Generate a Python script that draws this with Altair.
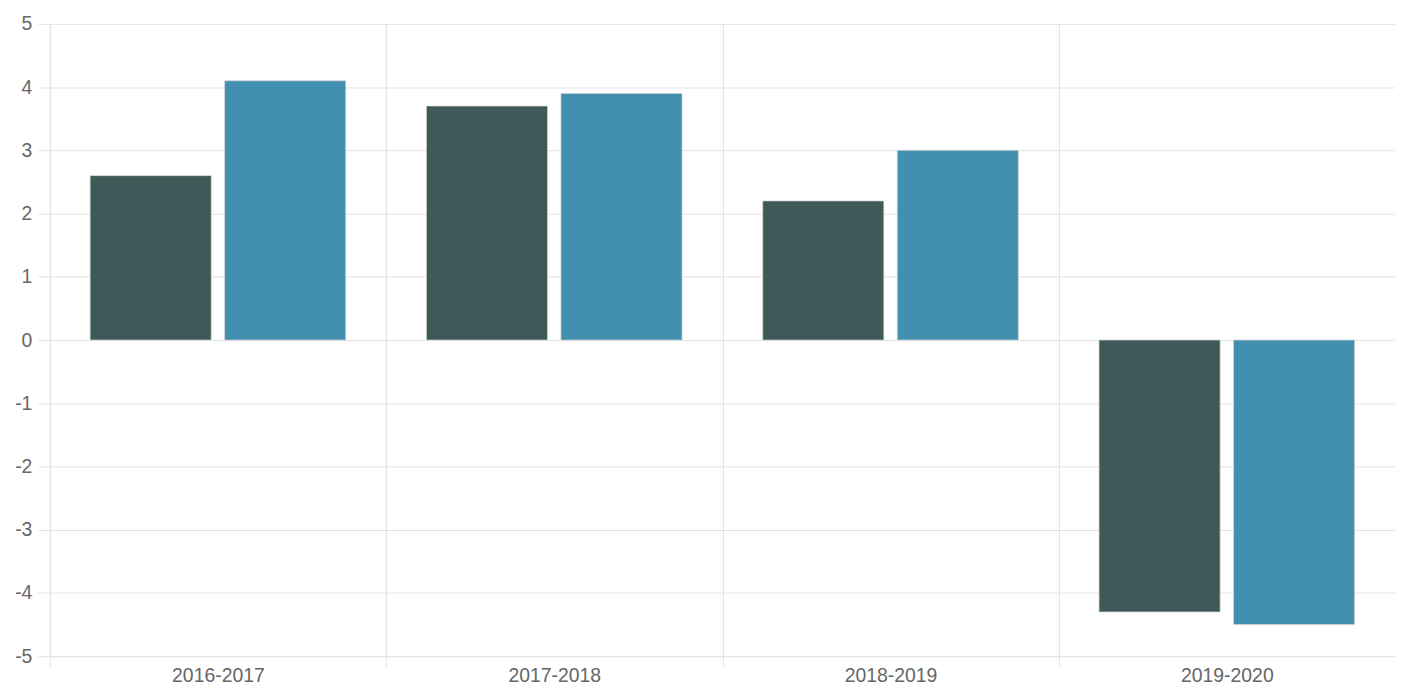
import altair as alt
import pandas as pd

categories = ["2016-2017", "2017-2018", "2018-2019", "2019-2020"]
series_names = ["Series A", "Series B"]
series_a = [2.6, 3.7, 2.2, -4.3]
series_b = [4.1, 3.9, 3.0, -4.5]
y_ticks = [-5, -4, -3, -2, -1, 0, 1, 2, 3, 4, 5]
colors = ["#3e5957", "#438fb0"]

rows = []
for i, c in enumerate(categories):
    rows.append({"period": c, "series": series_names[0], "value": series_a[i]})
    rows.append({"period": c, "series": series_names[1], "value": series_b[i]})
df = pd.DataFrame(rows)

grid_color = "#e2e2e2"

chart = (
    alt.Chart(df)
    .mark_bar(stroke="#d4d4d4", strokeWidth=1, strokeOpacity=0.7)
    .encode(
        x=alt.X(
            "period:N",
            sort=categories,
            scale=alt.Scale(paddingInner=0, paddingOuter=0),
            axis=alt.Axis(
                title=None,
                labelAngle=0,
                grid=True,
                tickBand="extent",
                tickSize=10,
                tickColor=grid_color,
                gridColor=grid_color,
                domainColor=grid_color,
                labelPadding=0,
            ),
        ),
        xOffset=alt.XOffset(
            "series:N",
            sort=series_names,
            scale=alt.Scale(paddingInner=0.1, paddingOuter=0.3),
        ),
        y=alt.Y(
            "value:Q",
            scale=alt.Scale(domain=[-5, 5], nice=False, zero=True),
            axis=alt.Axis(
                title=None,
                values=y_ticks,
                labelExpr="'' + datum.value",
                tickSize=12,
                tickColor=grid_color,
                gridColor=grid_color,
                domainColor=grid_color,
                labelPadding=6,
            ),
        ),
        color=alt.Color(
            "series:N",
            scale=alt.Scale(domain=series_names, range=colors),
            legend=None,
        ),
    )
    .properties(
        width=1353,
        height=636,
        autosize=alt.AutoSizeParams(type="none"),
        padding={"left": 42, "top": 14, "right": 0, "bottom": 28},
    )
    .configure_view(stroke=None)
    .configure_axis(
        labelFont="Liberation Sans",
        labelFontSize=19.5,
        labelColor="#666666",
        gridWidth=1,
        tickWidth=1,
        domainWidth=1,
    )
)

chart.save("out.html", embed_options={"renderer": "svg", "actions": False})
